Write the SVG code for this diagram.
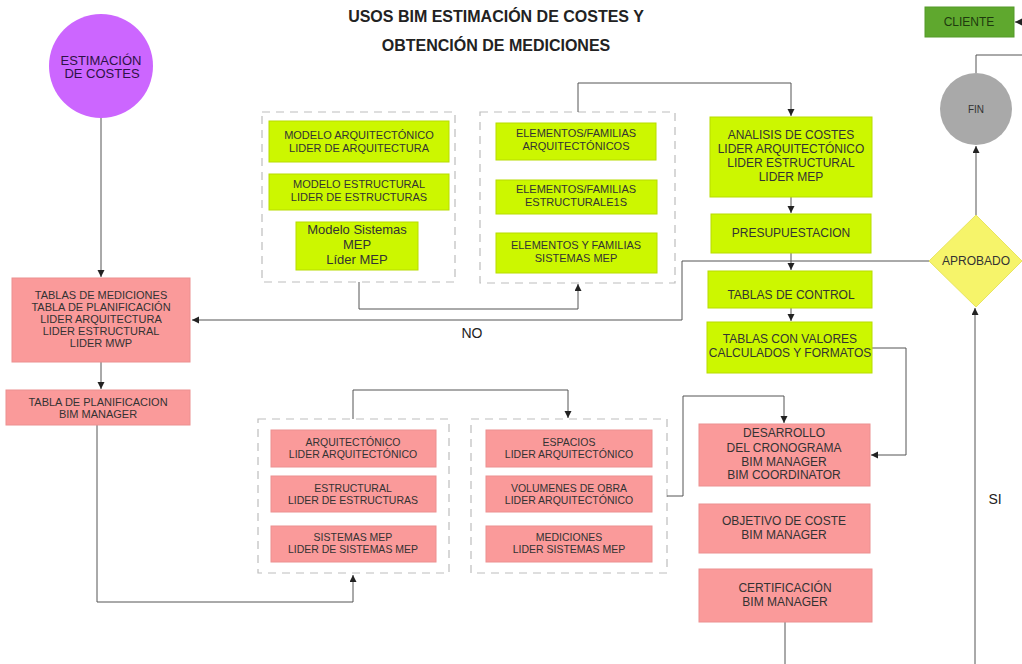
<svg xmlns="http://www.w3.org/2000/svg" width="1022" height="664" viewBox="0 0 1022 664">
  <style>
    text { font-family: "Liberation Sans", Arial, sans-serif; fill: #333; text-anchor: middle; }
    .title { font-size: 16px; font-weight: bold; fill: #222; }
    .g { fill: #CCF700; stroke: #B8DC00; stroke-width: 1; }
    .p { fill: #FA9A9A; stroke: #EC9090; stroke-width: 1; }
    .grp { fill: none; stroke: #BDBDBD; stroke-width: 1.2; stroke-dasharray: 8 6; }
    .t11 { font-size: 11px; }
    .t10 { font-size: 10.5px; }
    .t12 { font-size: 12px; }
    .t13 { font-size: 13px; }
    .lbl { font-size: 14px; fill: #222; }
    .conn path { fill: none; stroke: #555; stroke-width: 1; }
  </style>
  <defs>
    <marker id="arrow" markerUnits="userSpaceOnUse" markerWidth="8" markerHeight="8" refX="7" refY="3.5" orient="auto">
      <path d="M0,0 L7,3.5 L0,7 z" fill="#222"/>
    </marker>
  </defs>

  <rect width="1022" height="664" fill="#fff"/>

  <!-- Title -->
  <text class="title" x="496" y="22">USOS BIM ESTIMACIÓN DE COSTES Y</text>
  <text class="title" x="496" y="51">OBTENCIÓN DE MEDICIONES</text>

  <!-- Dashed groups -->
  <rect class="grp" x="262" y="112" width="193" height="170"/>
  <rect class="grp" x="480" y="112" width="195" height="171"/>
  <rect class="grp" x="258" y="419" width="191" height="154"/>
  <rect class="grp" x="471" y="419" width="196" height="154"/>

  <!-- Connectors -->
  <g class="conn">
    <path d="M101,118 V277" marker-end="url(#arrow)"/>
    <path d="M101,362 V389" marker-end="url(#arrow)"/>
    <path d="M97,425 V602 H353 V575" marker-end="url(#arrow)"/>
    <path d="M359,282 V309 H578 V284" marker-end="url(#arrow)"/>
    <path d="M578,112 V83 H791 V116" marker-end="url(#arrow)"/>
    <path d="M791,197 V213" marker-end="url(#arrow)"/>
    <path d="M791,253 V270" marker-end="url(#arrow)"/>
    <path d="M791,308 V321" marker-end="url(#arrow)"/>
    <path d="M929,261 H682 V320 H192" marker-end="url(#arrow)"/>
    <path d="M872,348 H906 V455 H871" marker-end="url(#arrow)"/>
    <path d="M353,419 V390 H568 V418" marker-end="url(#arrow)"/>
    <path d="M667,496 H683 V396 H784 V423" marker-end="url(#arrow)"/>
    <path d="M785,622 V664"/>
    <path d="M975,664 V308" marker-end="url(#arrow)"/>
    <path d="M976,215 V146" marker-end="url(#arrow)"/>
    <path d="M976,73 V55 H1026 V22 H1015" marker-end="url(#arrow)"/>
  </g>

  <!-- Start node -->
  <g id="estimacion">
    <circle cx="101" cy="66" r="52" fill="#CC66FF"/>
    <text class="t13" x="101" y="65" style="fill:#2E1246">ESTIMACIÓN</text>
    <text class="t13" x="102" y="78" style="fill:#2E1246">DE COSTES</text>
  </g>

  <!-- Model group -->
  <g id="modelo-arq">
    <rect class="g" x="269" y="121" width="180" height="41"/>
    <text class="t11" x="359" y="139">MODELO ARQUITECTÓNICO</text>
    <text class="t11" x="359" y="152">LIDER DE ARQUITECTURA</text>
  </g>
  <g id="modelo-est">
    <rect class="g" x="269" y="174" width="180" height="36"/>
    <text class="t11" x="359" y="188">MODELO ESTRUCTURAL</text>
    <text class="t11" x="359" y="201">LIDER DE ESTRUCTURAS</text>
  </g>
  <g id="modelo-mep">
    <rect class="g" x="296" y="222" width="122" height="48"/>
    <text class="t13" x="357" y="234">Modelo Sistemas</text>
    <text class="t13" x="357" y="249">MEP</text>
    <text class="t13" x="357" y="264">Líder MEP</text>
  </g>

  <!-- Elements group -->
  <g id="elem-arq">
    <rect class="g" x="496" y="123" width="160" height="37"/>
    <text class="t11" x="576" y="137">ELEMENTOS/FAMILIAS</text>
    <text class="t11" x="576" y="150">ARQUITECTÓNICOS</text>
  </g>
  <g id="elem-est">
    <rect class="g" x="496" y="180" width="161" height="34"/>
    <text class="t11" x="576" y="193">ELEMENTOS/FAMILIAS</text>
    <text class="t11" x="576" y="206">ESTRUCTURALE1S</text>
  </g>
  <g id="elem-mep">
    <rect class="g" x="496" y="233" width="161" height="40"/>
    <text class="t11" x="576" y="249">ELEMENTOS Y FAMILIAS</text>
    <text class="t11" x="576" y="262">SISTEMAS MEP</text>
  </g>

  <!-- Cost flow -->
  <g id="analisis">
    <rect class="g" x="710" y="117" width="162" height="80"/>
    <text class="t12" x="791" y="139">ANALISIS DE COSTES</text>
    <text class="t12" x="791" y="153">LIDER ARQUITECTÓNICO</text>
    <text class="t12" x="791" y="167">LIDER ESTRUCTURAL</text>
    <text class="t12" x="791" y="181">LIDER MEP</text>
  </g>
  <g id="presupuestacion">
    <rect class="g" x="711" y="214" width="160" height="39"/>
    <text class="t12" x="791" y="237">PRESUPUESTACION</text>
  </g>
  <g id="tablas-control">
    <rect class="g" x="708" y="271" width="164" height="37"/>
    <text class="t12" x="791" y="299">TABLAS DE CONTROL</text>
  </g>
  <g id="tablas-valores">
    <rect class="g" x="707" y="322" width="165" height="51"/>
    <text class="t12" x="790" y="343">TABLAS CON VALORES</text>
    <text class="t12" x="790" y="357">CALCULADOS Y FORMATOS</text>
  </g>

  <!-- Client / end / decision -->
  <g id="cliente">
    <rect x="925" y="7" width="89" height="30" fill="#5FA82E" stroke="#559A28"/>
    <text class="t12" x="969" y="26" style="fill:#1E3A0E">CLIENTE</text>
  </g>
  <g id="fin">
    <circle cx="976" cy="109" r="36" fill="#A9A9A9"/>
    <text x="976" y="113" style="font-size:10px">FIN</text>
  </g>
  <g id="aprobado">
    <polygon points="976,215 1022,261 976,307 929,261" fill="#F6F46A" stroke="#E8E460"/>
    <text class="t12" x="976" y="265">APROBADO</text>
  </g>

  <!-- Left column -->
  <g id="tablas-mediciones">
    <rect class="p" x="12" y="278" width="178" height="84"/>
    <text class="t11" x="101" y="299">TABLAS DE MEDICIONES</text>
    <text class="t11" x="101" y="311">TABLA DE PLANIFICACIÓN</text>
    <text class="t11" x="101" y="323">LIDER ARQUITECTURA</text>
    <text class="t11" x="101" y="335">LIDER ESTRUCTURAL</text>
    <text class="t11" x="101" y="347">LIDER MWP</text>
  </g>
  <g id="tabla-planificacion">
    <rect class="p" x="6" y="390" width="184" height="35"/>
    <text class="t11" x="98" y="406">TABLA DE PLANIFICACION</text>
    <text class="t11" x="98" y="418">BIM MANAGER</text>
  </g>

  <!-- Discipline group -->
  <g id="arquitectonico">
    <rect class="p" x="271" y="430" width="165" height="37"/>
    <text class="t10" x="353" y="446">ARQUITECTÓNICO</text>
    <text class="t10" x="353" y="458">LIDER ARQUITECTÓNICO</text>
  </g>
  <g id="estructural">
    <rect class="p" x="271" y="476" width="165" height="36"/>
    <text class="t10" x="353" y="492">ESTRUCTURAL</text>
    <text class="t10" x="353" y="504">LIDER DE ESTRUCTURAS</text>
  </g>
  <g id="sistemas-mep">
    <rect class="p" x="271" y="526" width="165" height="36"/>
    <text class="t10" x="353" y="541">SISTEMAS MEP</text>
    <text class="t10" x="353" y="553">LIDER DE SISTEMAS MEP</text>
  </g>

  <!-- Quantities group -->
  <g id="espacios">
    <rect class="p" x="486" y="430" width="166" height="37"/>
    <text class="t10" x="569" y="446">ESPACIOS</text>
    <text class="t10" x="569" y="458">LIDER ARQUITECTÓNICO</text>
  </g>
  <g id="volumenes">
    <rect class="p" x="486" y="476" width="166" height="36"/>
    <text class="t10" x="569" y="492">VOLUMENES DE OBRA</text>
    <text class="t10" x="569" y="504">LIDER ARQUITECTÓNICO</text>
  </g>
  <g id="mediciones">
    <rect class="p" x="486" y="526" width="166" height="36"/>
    <text class="t10" x="569" y="541">MEDICIONES</text>
    <text class="t10" x="569" y="553">LIDER SISTEMAS MEP</text>
  </g>

  <!-- Schedule / target / certification -->
  <g id="desarrollo">
    <rect class="p" x="699" y="424" width="171" height="62"/>
    <text class="t12" x="784" y="437">DESARROLLO</text>
    <text class="t12" x="784" y="452">DEL CRONOGRAMA</text>
    <text class="t12" x="784" y="466">BIM MANAGER</text>
    <text class="t12" x="784" y="479">BIM COORDINATOR</text>
  </g>
  <g id="objetivo">
    <rect class="p" x="699" y="504" width="171" height="49"/>
    <text class="t12" x="784" y="525">OBJETIVO DE COSTE</text>
    <text class="t12" x="784" y="539">BIM MANAGER</text>
  </g>
  <g id="certificacion">
    <rect class="p" x="699" y="569" width="173" height="53"/>
    <text class="t12" x="785" y="592">CERTIFICACIÓN</text>
    <text class="t12" x="785" y="606">BIM MANAGER</text>
  </g>

  <!-- Edge labels -->
  <text class="lbl" x="472" y="338">NO</text>
  <text class="lbl" x="995" y="504">SI</text>
</svg>
